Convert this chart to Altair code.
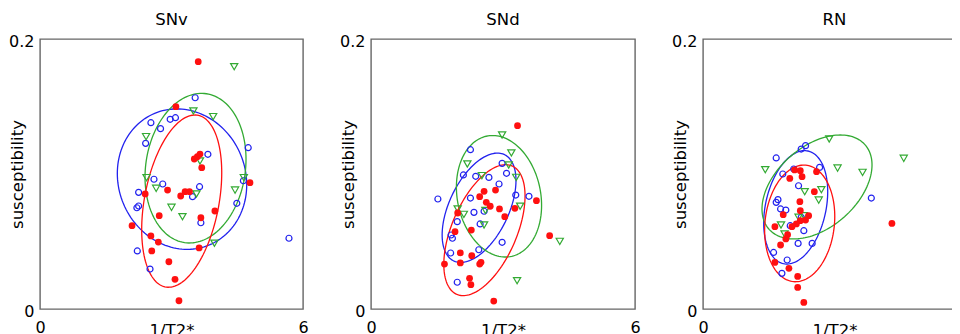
import numpy as np
import pandas as pd
import altair as alt

# ---------------- data ----------------
panels = ["SNv", "SNd", "RN"]

# SNv
snv_blue_x = [3.54, 2.53, 2.75, 2.97, 3.09, 2.41, 4.75, 3.83, 2.60, 2.80, 3.64, 3.48, 2.25, 4.64, 4.49, 2.25, 2.21, 3.67, 5.68, 2.22, 2.51]
snv_blue_y = [0.1565, 0.1380, 0.1336, 0.1405, 0.1417, 0.1227, 0.1195, 0.1146, 0.0961, 0.0926, 0.0906, 0.0832, 0.0864, 0.0950, 0.0783, 0.0763, 0.0750, 0.0639, 0.0524, 0.0430, 0.0296]
snv_red_x = [3.61, 3.10, 3.52, 3.59, 3.65, 3.69, 4.79, 2.40, 2.91, 3.21, 3.31, 3.41, 2.72, 3.67, 3.99, 2.10, 2.53, 2.70, 2.55, 3.63, 2.94, 3.08, 3.17]
snv_red_y = [0.1832, 0.1499, 0.1111, 0.1128, 0.1148, 0.1047, 0.0936, 0.0852, 0.0881, 0.0837, 0.0869, 0.0869, 0.0691, 0.0676, 0.0726, 0.0617, 0.0541, 0.0496, 0.0430, 0.0452, 0.0350, 0.0220, 0.0061]
snv_green_x = [4.43, 3.50, 3.95, 2.42, 3.65, 2.43, 2.65, 3.57, 4.65, 4.45, 3.00, 3.25, 3.98]
snv_green_y = [0.1795, 0.1467, 0.1425, 0.1277, 0.1096, 0.0973, 0.0894, 0.0852, 0.0973, 0.0881, 0.0753, 0.0684, 0.0487]

# SNd
snd_blue_x = [2.26, 2.98, 3.08, 2.10, 2.38, 2.68, 2.91, 1.52, 2.26, 3.29, 3.59, 2.34, 2.57, 1.96, 2.48, 1.82, 1.85, 2.98, 2.45, 1.81, 1.96]
snd_blue_y = [0.1180, 0.1079, 0.1005, 0.0993, 0.0983, 0.0975, 0.0926, 0.0815, 0.0822, 0.0844, 0.0835, 0.0716, 0.0724, 0.0647, 0.0630, 0.0548, 0.0524, 0.0494, 0.0439, 0.0415, 0.0198]
snd_red_x = [3.33, 2.57, 2.47, 2.83, 2.62, 2.71, 2.92, 3.04, 3.27, 3.76, 4.06, 1.97, 1.91, 2.28, 2.03, 1.67, 2.03, 2.29, 2.47, 2.50, 2.24, 2.27, 2.79]
snd_red_y = [0.1358, 0.0872, 0.0832, 0.0881, 0.0790, 0.0761, 0.0741, 0.0684, 0.0746, 0.0802, 0.0543, 0.0711, 0.0573, 0.0585, 0.0415, 0.0333, 0.0341, 0.0395, 0.0333, 0.0346, 0.0227, 0.0180, 0.0059]
snd_green_x = [2.98, 3.19, 2.19, 3.13, 2.52, 3.30, 3.39, 1.97, 2.11, 2.57, 4.29, 3.32, 2.60]
snd_green_y = [0.1289, 0.1156, 0.1074, 0.1067, 0.0988, 0.0975, 0.0761, 0.0741, 0.0701, 0.0622, 0.0501, 0.0210, 0.0730]

# RN
rn_blue_x = [2.34, 2.24, 1.67, 1.82, 2.07, 2.66, 2.18, 3.84, 1.71, 1.67, 1.77, 1.89, 2.24, 1.99, 2.30, 2.17, 2.49, 1.61, 1.92, 1.80]
rn_blue_y = [0.1210, 0.1185, 0.1119, 0.1000, 0.1037, 0.1049, 0.0913, 0.0822, 0.0810, 0.0790, 0.0741, 0.0733, 0.0679, 0.0617, 0.0580, 0.0486, 0.0486, 0.0419, 0.0363, 0.0264]
rn_red_x = [2.09, 2.22, 2.26, 2.59, 1.98, 2.54, 2.21, 2.22, 1.83, 2.41, 2.34, 2.22, 2.13, 2.03, 1.64, 1.93, 1.89, 1.77, 4.31, 1.64, 1.96, 2.16, 2.16, 2.30]
rn_red_y = [0.1030, 0.1024, 0.0980, 0.1017, 0.0967, 0.0869, 0.0795, 0.0728, 0.0699, 0.0691, 0.0659, 0.0654, 0.0630, 0.0610, 0.0610, 0.0550, 0.0519, 0.0474, 0.0634, 0.0345, 0.0301, 0.0241, 0.0160, 0.0049]
rn_green_x = [2.88, 4.58, 1.42, 3.07, 3.64, 2.32, 2.70, 2.64, 2.18, 2.30, 1.78, 1.86]
rn_green_y = [0.1259, 0.1116, 0.1032, 0.1044, 0.1012, 0.0869, 0.0884, 0.0807, 0.0679, 0.0691, 0.0622, 0.0556]

# ellipses: centre, half-extent in x and y, phase (tilt)
ell_panel = ["SNv", "SNv", "SNv", "SNd", "SNd", "SNd", "RN", "RN", "RN"]
ell_group = ["blue", "green", "red"] * 3
ell_cx = [3.240, 3.548, 3.233, 2.456, 2.909, 2.578, 2.115, 2.601, 2.206]
ell_cy = [0.0962, 0.1043, 0.0799, 0.0750, 0.0835, 0.0584, 0.0753, 0.0904, 0.0634]
ell_rx = [1.476, 1.152, 0.913, 0.839, 0.968, 0.923, 0.730, 1.255, 0.800]
ell_ry = [0.0520, 0.0554, 0.0638, 0.0405, 0.0450, 0.0485, 0.0420, 0.0385, 0.0432]
ell_phi = [-0.08, 0.12, 0.336, 0.52, -0.15, 0.55, 0.28, 0.438, 0.12]

x_ticks = [0, 6]
y_ticks = [0, 0.2]

# ---------------- tables ----------------
pts = {
    "SNv": {"blue": (snv_blue_x, snv_blue_y), "red": (snv_red_x, snv_red_y), "green": (snv_green_x, snv_green_y)},
    "SNd": {"blue": (snd_blue_x, snd_blue_y), "red": (snd_red_x, snd_red_y), "green": (snd_green_x, snd_green_y)},
    "RN": {"blue": (rn_blue_x, rn_blue_y), "red": (rn_red_x, rn_red_y), "green": (rn_green_x, rn_green_y)},
}

t = np.linspace(0, 2 * np.pi, 145)
ell_rows = []
for p, g, cx, cy, rx, ry, ph in zip(ell_panel, ell_group, ell_cx, ell_cy, ell_rx, ell_ry, ell_phi):
    for i, tt in enumerate(t):
        ell_rows.append({"panel": p, "group": g, "i": i,
                         "x": cx + rx * np.cos(tt), "y": cy + ry * np.sin(tt + ph)})
ell_df = pd.DataFrame(ell_rows)

BLUE = "#2222ee"
RED = "#ff1010"
GREEN = "#33aa33"
FONT = "DejaVu Sans"
H = 270


def make_panel(name, width):
    xs = alt.Scale(domain=[0, 6], nice=False, zero=False)
    ys = alt.Scale(domain=[0, 0.2], nice=False, zero=False)
    xax = alt.Axis(values=x_ticks, format="d", title="1/T2*", labelFlush=False, ticks=False, tickSize=0,
                   domain=False, grid=False, labelPadding=10, titleX=width / 2, titleY=13,
                   titleBaseline="top")
    yax = alt.Axis(values=y_ticks, format="~g", title="susceptibility", ticks=False, tickSize=0,
                   domain=False, grid=False, labelPadding=6, labelBaseline="middle", labelOffset=2,
                   titleX=-15, titleY=H / 2, titleAngle=-90, titleBaseline="bottom")
    X = alt.X("x:Q", scale=xs, axis=xax)
    Y = alt.Y("y:Q", scale=ys, axis=yax)

    e = ell_df[ell_df.panel == name]
    ell = alt.Chart(e).mark_line(strokeWidth=1.3, clip=True).encode(
        x=X, y=Y,
        color=alt.Color("group:N", scale=alt.Scale(domain=["blue", "green", "red"], range=[BLUE, GREEN, RED]), legend=None),
        order=alt.Order("i:Q"),
    )
    layers = [ell]
    bx, by = pts[name]["blue"]
    gx, gy = pts[name]["green"]
    rx, ry = pts[name]["red"]
    layers.append(alt.Chart(pd.DataFrame({"x": bx, "y": by})).mark_point(
        shape="circle", filled=False, color=BLUE, size=36, strokeWidth=1.2, opacity=1).encode(x=X, y=Y))
    layers.append(alt.Chart(pd.DataFrame({"x": gx, "y": gy})).mark_point(
        shape="triangle-down", filled=False, color=GREEN, size=52, strokeWidth=1.2, opacity=1).encode(x=X, y=Y))
    layers.append(alt.Chart(pd.DataFrame({"x": rx, "y": ry})).mark_circle(
        color=RED, size=46, opacity=1).encode(x=X, y=Y))
    return alt.layer(*layers).properties(
        width=width, height=H,
        title=alt.TitleParams(name, fontSize=16.5, fontWeight="normal", font=FONT, anchor="middle",
                              color="black", offset=4.5),
    )


chart = alt.hconcat(
    make_panel("SNv", 263), make_panel("SNd", 264), make_panel("RN", 263), spacing=29
).properties(
    autosize=alt.AutoSizeParams(type="none"),
    padding={"left": 32, "top": 31, "right": 912, "bottom": 320},
).configure_view(
    stroke="#666666", strokeWidth=1.4
).configure_axis(
    labelFont=FONT, titleFont=FONT, labelFontSize=16, titleFontSize=16.5, titleFontWeight="normal",
    labelColor="black", titleColor="black"
)

chart.save("out.html", embed_options={"renderer": "svg", "actions": False})
